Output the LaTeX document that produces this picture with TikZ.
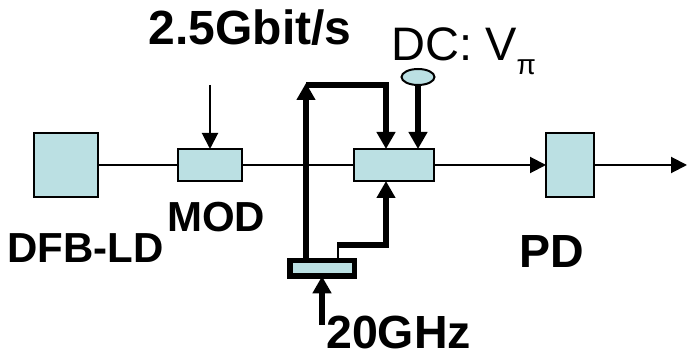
\documentclass[tikz,border=0pt]{standalone}
\usepackage{fontspec}
\setmainfont{Liberation Sans}
\usetikzlibrary{arrows.meta,calc,shapes.geometric}
\definecolor{boxfill}{HTML}{BBE0E3}
\tikzset{
  block/.style={draw=black,line width=2pt,fill=boxfill,inner sep=0pt,outer sep=0pt,rectangle},
  thin line/.style={draw=black,line width=2pt},
  thin arrow/.style={thin line,-{Triangle[length=16pt,width=16pt]}},
  heavy line/.style={draw=black,line width=5.5pt},
  heavy arrow/.style={heavy line,-{Triangle[length=17pt,width=18pt]}},
  label text/.style={font=\bfseries\fontsize{42}{42}\selectfont,inner sep=0pt,anchor=base west,text=black},
  big label/.style={label text,font=\bfseries\fontsize{46.5}{46.5}\selectfont},
}
\begin{document}
\begin{tikzpicture}[x=1pt,y=-1pt]
\useasboundingbox (0,0) rectangle (687,352);
% blocks
\node[block,minimum width=64pt,minimum height=64pt] (dfb) at (66,165) {};
\node[block,minimum width=64pt,minimum height=32pt] (mod) at (210,165) {};
\node[block,minimum width=80pt,minimum height=32pt] (mzm) at (394,165) {};
\node[block,minimum width=48pt,minimum height=64pt] (pd) at (570,165) {};
\node[draw=black,line width=5.5pt,fill=boxfill,inner sep=0pt,outer sep=0pt,minimum width=64.5pt,minimum height=15.5pt] (drv) at (322,268.5) {};
\node[ellipse,draw=black,line width=2pt,fill=boxfill,inner sep=0pt,outer sep=0pt,minimum width=33pt,minimum height=16pt] (dc) at (418,77) {};
% free ends
\coordinate (out) at (687,165);
\coordinate (data) at (210,85);
\coordinate (rf) at (322,325);
\coordinate (topTip) at (306,83);
\coordinate (topL) at (306,85);
\coordinate (topR) at (386,85);
\coordinate (stepR) at (386,245);
\coordinate (stepL) at (338,245);
% thin connectors
\draw[thin line] (dfb.east) -- (mod.west);
\draw[thin line] (mod.east) -- (mzm.west);
\draw[thin arrow] (mzm.east) -- (pd.west);
\draw[thin arrow] (pd.east) -- (out);
\draw[thin arrow] (data) -- (mod.north);
% heavy connectors
\draw[heavy arrow] (drv.north -| topTip) -- (topTip);
\draw[heavy line] (topL) -- (topR);
\draw[heavy arrow] ($(topR)+(0,-2.75)$) -- (mzm.north -| topR);
\draw[heavy arrow] (dc.south) -- (mzm.north -| dc.south);
\draw[heavy arrow] ($(stepR)+(0,2.75)$) -- (mzm.south -| stepR);
\draw[heavy line] (stepR) -- (stepL);
\draw[thin line] ($(stepL)+(0,-2.75)$) -- (drv.north -| stepL);
\draw[heavy arrow] (rf) -- (drv.south);
% labels
\node[label text,font=\bfseries\fontsize{48}{48}\selectfont] (lrate) at (148.5,44.5) {2.5Gbit/s};
\node[label text] (lmod) at (167,232) {MOD};
\node[label text] (ldfb) at (7,263) {DFB-LD};
\node[big label] (lpd) at (519,268) {PD};
\node[big label,text depth=0pt] (lghz) at (326,348) {20GHz};
\node[font=\fontsize{47}{47}\selectfont,inner sep=0pt,anchor=base west] (ldc) at (391,61) {DC: V\raisebox{-14pt}{\fontsize{28}{28}\selectfont π}};
\end{tikzpicture}
\end{document}
